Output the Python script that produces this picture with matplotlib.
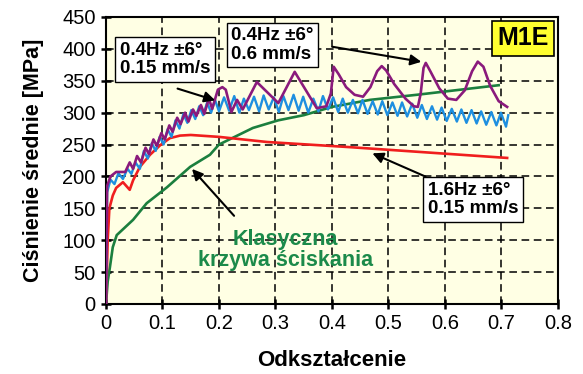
import matplotlib.pyplot as plt

plt.rcParams['font.family'] = ['Liberation Sans', 'DejaVu Sans']

# Odkształcenie / Ciśnienie średnie [MPa]
purple_x = [0, 0.002, 0.008, 0.018, 0.034, 0.042, 0.048, 0.055, 0.062, 0.07, 0.076,
            0.084, 0.09, 0.098, 0.104, 0.112, 0.118, 0.126, 0.132, 0.14, 0.146,
            0.154, 0.16, 0.168, 0.174, 0.182, 0.188, 0.198, 0.206, 0.212, 0.222,
            0.232, 0.242, 0.267, 0.305, 0.334, 0.373, 0.39, 0.398, 0.403, 0.412,
            0.425, 0.44, 0.455, 0.468, 0.48, 0.488, 0.496, 0.51, 0.53, 0.545,
            0.552, 0.557, 0.562, 0.566, 0.574, 0.59, 0.605, 0.62, 0.635, 0.648,
            0.658, 0.668, 0.68, 0.695, 0.71]
purple_y = [0, 185, 200, 207, 207, 222, 212, 232, 222, 245, 235,
            258, 248, 268, 258, 280, 270, 292, 282, 300, 286,
            305, 295, 312, 298, 322, 306, 336, 340, 336, 301,
            320, 305, 348, 315, 364, 307, 310, 330, 372, 360,
            340, 328, 325, 340, 365, 373, 366, 345, 322, 310,
            309, 330, 370, 378, 365, 338, 322, 320, 335, 365,
            380, 372, 342, 318, 309]

blue_x = [0, 0.002, 0.008, 0.015, 0.022, 0.03, 0.038, 0.045, 0.052, 0.06, 0.067,
          0.074, 0.081, 0.088, 0.095, 0.102, 0.109, 0.116, 0.123, 0.13, 0.137,
          0.144, 0.151, 0.158, 0.165, 0.172, 0.179, 0.186, 0.193, 0.2,
          0.209, 0.218, 0.227, 0.236, 0.244, 0.253, 0.262, 0.271, 0.279, 0.288,
          0.297, 0.306, 0.314, 0.323, 0.332, 0.341, 0.349, 0.358, 0.367, 0.376,
          0.384, 0.393, 0.402, 0.411, 0.419, 0.428, 0.437, 0.446, 0.454, 0.463,
          0.472, 0.481, 0.489, 0.498, 0.507, 0.516, 0.524, 0.533, 0.542, 0.551,
          0.559, 0.568, 0.577, 0.586, 0.594, 0.603, 0.612, 0.621, 0.629, 0.638,
          0.647, 0.656, 0.664, 0.673, 0.682, 0.691, 0.699, 0.708, 0.712]
blue_y = [0, 175, 195, 188, 205, 196, 212, 204, 222, 212, 240,
          228, 252, 240, 262, 250, 274, 262, 288, 275, 298,
          284, 304, 290, 310, 296, 316, 300, 320, 302,
          324, 303, 326, 300, 322, 304, 325, 302, 327, 305,
          324, 301, 326, 304, 328, 303, 325, 300, 322, 302,
          326, 305, 324, 301, 322, 300, 320, 299, 320, 298,
          318, 297, 318, 296, 316, 295, 316, 294, 314, 292,
          312, 290, 310, 289, 308, 287, 306, 286, 305, 284,
          304, 283, 302, 281, 301, 280, 300, 278, 296]

red_x = [0, 0.003, 0.006, 0.012, 0.018, 0.03, 0.037, 0.042, 0.048, 0.06, 0.078,
         0.096, 0.113, 0.131, 0.15, 0.2, 0.285, 0.43, 0.71]
red_y = [0, 100, 150, 170, 182, 191, 184, 179, 194, 215, 234,
         249, 260, 264, 265, 262, 254, 246, 229]

green_x = [0, 0.003, 0.007, 0.012, 0.019, 0.048, 0.072, 0.108, 0.149, 0.184, 0.2,
           0.26, 0.305, 0.35, 0.4, 0.467, 0.55, 0.695]
green_y = [0, 35, 58, 89, 108, 132, 158, 183, 215, 234, 250,
           276, 288, 296, 309, 320, 328, 343]

fig = plt.figure(figsize=(5.83, 3.74), dpi=100)
ax = fig.add_axes([0.1818, 0.1872, 0.7753, 0.7674])
ax.set_facecolor('#FFFFE4')

ax.plot(green_x, green_y, color='#1B7F3E', lw=1.9, zorder=3)
ax.plot(red_x, red_y, color='#F01E1E', lw=1.9, zorder=4)
ax.plot(blue_x, blue_y, color='#1E8FE0', lw=1.7, zorder=5)
ax.plot(purple_x, purple_y, color='#8A1A7C', lw=1.9, zorder=6)

ax.set_xlim(0, 0.8)
ax.set_ylim(0, 450)
ax.set_xticks([0, 0.1, 0.2, 0.3, 0.4, 0.5, 0.6, 0.7, 0.8])
ax.set_xticklabels(['0', '0.1', '0.2', '0.3', '0.4', '0.5', '0.6', '0.7', '0.8'])
ax.set_yticks(range(0, 451, 50))
ax.tick_params(direction='inout', length=7, width=1.8, labelsize=14.5, pad=4)
ax.grid(True, linestyle=(0, (5, 3)), color='black', lw=1.1, zorder=1)
for s in ax.spines.values():
    s.set_linewidth(1.5)

ax.set_xlabel('Odkształcenie', fontsize=16, fontweight='bold', labelpad=12)
ax.set_ylabel('Ciśnienie średnie [MPa]', fontsize=15.5, fontweight='bold', labelpad=13)

box = dict(boxstyle='square,pad=0.25', fc='white', ec='black', lw=1)
arrow = dict(arrowstyle='-|>', color='black', lw=1.5, mutation_scale=16)

# arrows
ax.annotate('', xy=(0.198, 318), xytext=(0.122, 339), arrowprops=arrow, zorder=7)
ax.annotate('', xy=(0.563, 379), xytext=(0.396, 404), arrowprops=arrow, zorder=7)
ax.annotate('', xy=(0.467, 238), xytext=(0.57, 198), arrowprops=arrow, zorder=7)
ax.annotate('', xy=(0.149, 215), xytext=(0.23, 135), arrowprops=arrow, zorder=7)

ax.text(0.025, 383, '0.4Hz ±6°\n0.15 mm/s', fontsize=13.5, fontweight='bold',
        ha='left', va='center', bbox=box, zorder=8, linespacing=1.1)
ax.text(0.222, 406, '0.4Hz ±6°\n0.6 mm/s', fontsize=13.5, fontweight='bold',
        ha='left', va='center', bbox=box, zorder=8, linespacing=1.1)
ax.text(0.57, 164, '1.6Hz ±6°\n0.15 mm/s', fontsize=13.5, fontweight='bold',
        ha='left', va='center', bbox=box, zorder=8, linespacing=1.1)
ax.text(0.317, 85, 'Klasyczna\nkrzywa ściskania', fontsize=15.5, fontweight='bold',
        color='#1B8A4A', ha='center', va='center', zorder=8, linespacing=1.0)
ax.text(0.738, 417, 'M1E', fontsize=18, fontweight='bold', ha='center', va='center',
        bbox=dict(boxstyle='square,pad=0.22', fc='#FFFF30', ec='black', lw=1.2), zorder=8)

fig.savefig('out.png', dpi=100)
